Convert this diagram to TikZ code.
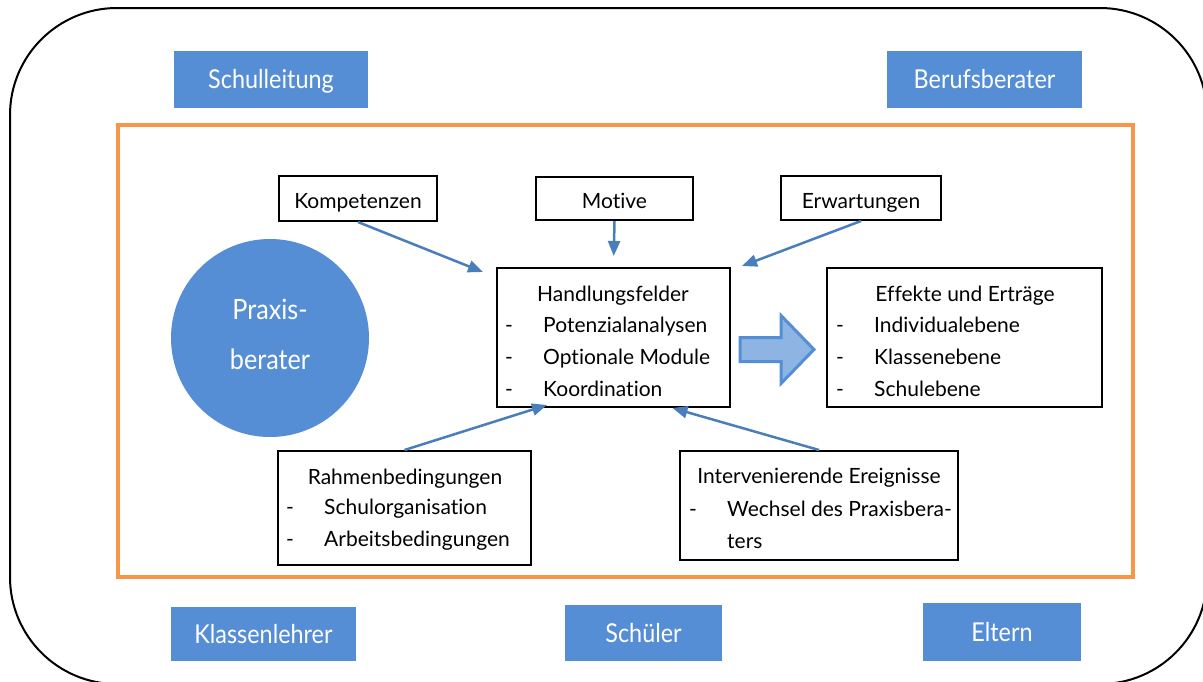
\documentclass[tikz,border=0pt]{standalone}
\usepackage{fontspec}
\setmainfont{Lato}[Ligatures=NoCommon]
\newfontfamily\labelfont{Lato}[FakeStretch=0.9,Ligatures=NoCommon]
\usetikzlibrary{arrows.meta,calc}
\definecolor{bluebox}{HTML}{558ED5}
\definecolor{arrowblue}{HTML}{4A7EBB}
\definecolor{orangeline}{HTML}{F79646}
\definecolor{lightblue}{HTML}{8EB4E3}
\tikzset{
  bluelabel/.style={rectangle, fill=bluebox, text=white, inner sep=0pt, font=\labelfont\fontsize{26}{30}\selectfont, text height=19pt, text depth=1pt},
  whitebox/.style={rectangle, draw=black, line width=2pt, fill=white, inner sep=0pt},
  smallbox/.style={whitebox, font=\fontsize{21}{24}\selectfont, text height=20pt, text depth=0pt},
  boxtext/.style={inner sep=0pt, font=\fontsize{21}{32}\selectfont, align=left},
  circtext/.style={text=white, inner sep=0pt, font=\labelfont\fontsize{28}{32}\selectfont},
  arr/.style={draw=arrowblue, line width=2.5pt, -{Triangle[length=15pt,width=12pt]}},
  bigarr/.style={draw=bluebox, line width=3pt, fill=lightblue, line join=miter},
}
\newcommand{\dashitem}[1]{\makebox[38pt][l]{-}#1}
\begin{document}
\begin{tikzpicture}[x=1pt,y=-1pt]
\useasboundingbox (0,0) rectangle (1203,681);
% outer frame
\draw[line width=2pt, rounded corners=107pt] (10,8) rectangle (1207,684);
% orange frame
\draw[orangeline, line width=3.5pt] (118,125) rectangle (1133,577);
% blue labels
\node[bluelabel, minimum width=194pt, minimum height=57pt] (sl) at (271,79.5) {Schulleitung};
\node[bluelabel, minimum width=195pt, minimum height=57pt] (bb) at (984.5,79.5) {Berufsberater};
\node[bluelabel, minimum width=185pt, minimum height=54pt] (kl) at (263.5,634) {Klassenlehrer};
\node[bluelabel, minimum width=157pt, minimum height=56pt] (sch) at (643.5,633) {Schüler};
\node[bluelabel, minimum width=158pt, minimum height=58pt] (el) at (1002,632) {Eltern};
% circle
\node[circle, fill=bluebox, minimum size=198pt, inner sep=0pt] (pb) at (270,338) {};
\node[circtext] (pb1) at (270,309) {Praxis-};
\node[circtext] (pb2) at (270,359) {berater};
% small boxes
\node[smallbox, minimum width=158pt, minimum height=45pt] (komp) at (358,198.5) {Kompetenzen};
\node[smallbox, minimum width=157pt, minimum height=43pt] (mot) at (614.5,198.5) {Motive};
\node[smallbox, minimum width=160pt, minimum height=44pt] (erw) at (861,198) {Erwartungen};
% Handlungsfelder
\node[whitebox, minimum width=233pt, minimum height=139pt] (hf) at (613.5,337.5) {};
\node[boxtext] (hft) at (613,296) {Handlungsfelder};
\node[boxtext, anchor=west] (hfl) at (505,357) {\dashitem{Potenzialanalysen}\\\dashitem{Optionale Module}\\\dashitem{Koordination}};
% Effekte
\node[whitebox, minimum width=275pt, minimum height=139pt] (ef) at (964.5,337.5) {};
\node[boxtext] (eft) at (965,296) {Effekte und Erträge};
\node[boxtext, anchor=west] (efl) at (836,357) {\dashitem{Individualebene}\\\dashitem{Klassenebene}\\\dashitem{Schulebene}};
% Rahmenbedingungen
\node[whitebox, minimum width=253pt, minimum height=114pt] (rb) at (404.5,508) {};
\node[boxtext] (rbt) at (405,479) {Rahmenbedingungen};
\node[boxtext, anchor=west] (rbl) at (286,525) {\dashitem{Schulorganisation}\\\dashitem{Arbeitsbedingungen}};
% Intervenierende Ereignisse
\node[whitebox, minimum width=278pt, minimum height=109pt] (iv) at (819,505.5) {};
\node[boxtext] (ivt) at (819,478) {Intervenierende Ereignisse};
\node[boxtext, anchor=west] (ivl) at (689,525) {\dashitem{Wechsel des Praxisbera-}\\\makebox[38pt][l]{}ters};
% connectors
\draw[arr] (komp.south) -- ($(hf.north west)+(-13,5)$);
\draw[arr, shorten >=11pt] (mot.south) -- (hf.north);
\draw[arr] (erw.south) -- ($(hf.north east)+(11,-1)$);
\draw[arr] (rb.north) -- ($(hf.south west)+(51,-3)$);
\draw[arr] (iv.north) -- ($(hf.south)+(59,0)$);
% block arrow
\draw[bigarr] ($(hf.east)+(9,0)$) coordinate (ba) -- ++(41,0) -- ++(0,-22) -- ++(33,34) -- ++(-33,34) -- ++(0,-22) -- ++(-41,0) -- cycle;
\end{tikzpicture}
\end{document}
